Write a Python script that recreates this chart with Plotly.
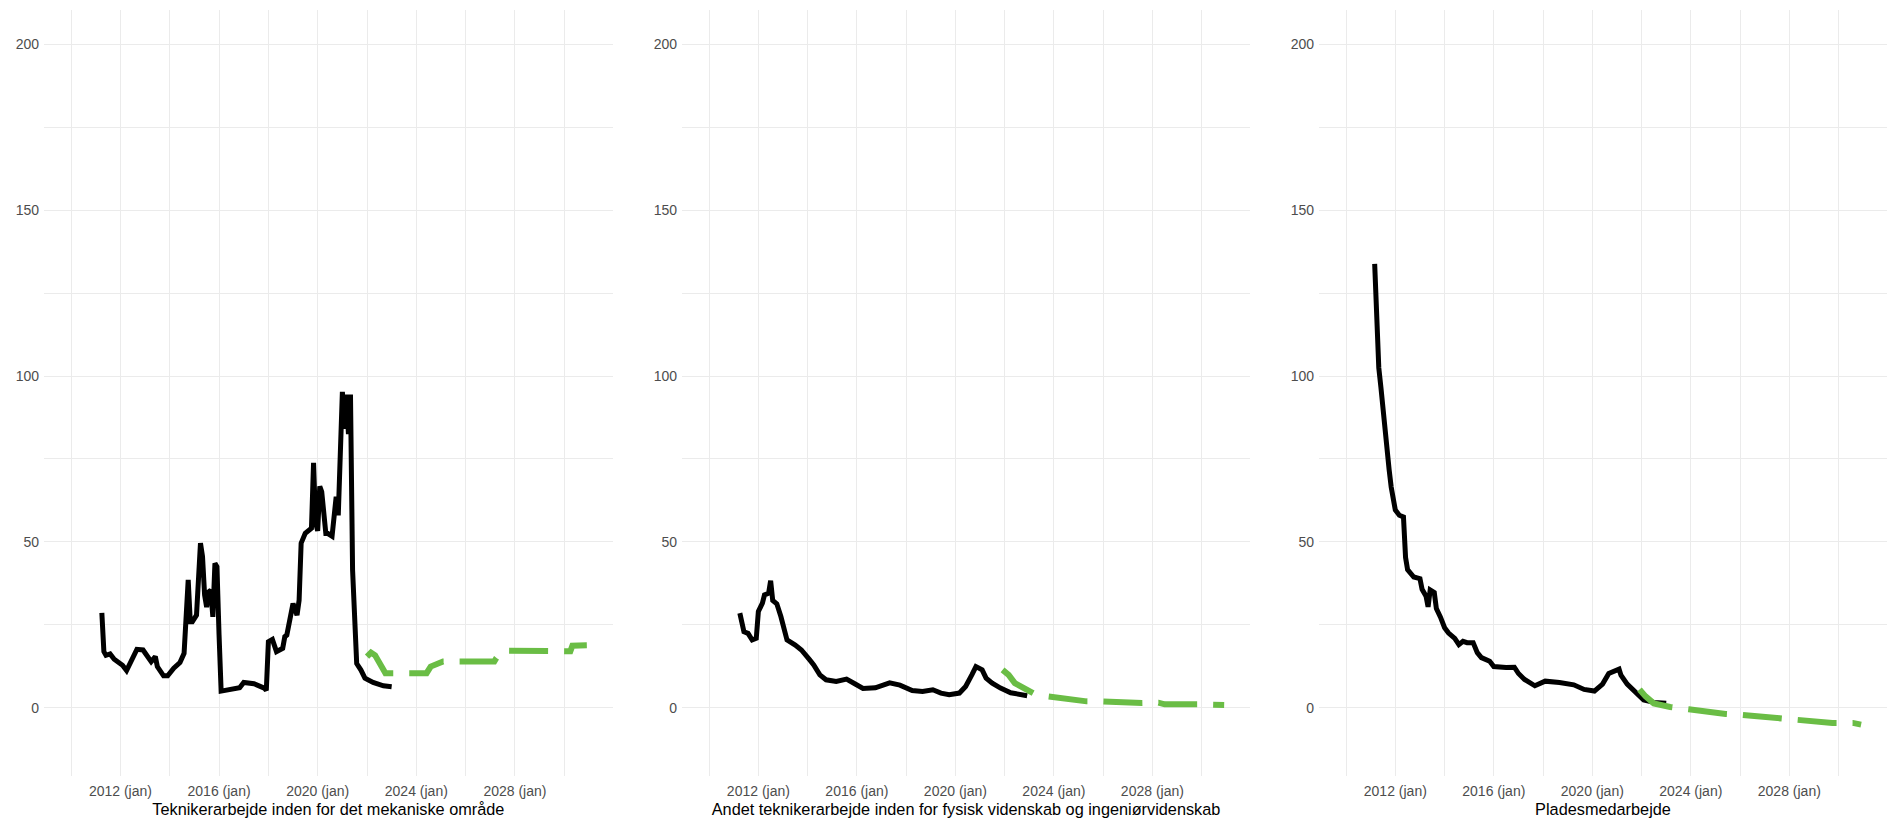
import plotly.graph_objects as go

# ---------------- data ----------------
titles = [
    "Teknikerarbejde inden for det mekaniske område",
    "Andet teknikerarbejde inden for fysisk videnskab og ingeniørvidenskab",
    "Pladesmedarbejde",
]

tick_dates = ["2012-01-01", "2016-01-01", "2020-01-01", "2024-01-01", "2028-01-01"]
tick_labels = ["2012 (jan)", "2016 (jan)", "2020 (jan)", "2024 (jan)", "2028 (jan)"]
minor_dates = ["2010-01-01", "2014-01-01", "2018-01-01", "2022-01-01", "2026-01-01", "2030-01-01"]
y_ticks = [0, 50, 100, 150, 200]
y_minor = [25, 75, 125, 175]

# Panel 1 - historic
p1_hist_x = ["2011-04", "2011-05", "2011-06", "2011-08", "2011-10", "2011-12", "2012-02",
             "2012-04", "2012-06", "2012-09", "2012-12",
             "2013-04", "2013-06", "2013-07", "2013-10", "2013-12", "2014-03", "2014-06",
             "2014-08", "2014-09", "2014-10", "2014-11", "2014-12", "2015-02", "2015-04",
             "2015-05", "2015-06", "2015-07", "2015-08", "2015-09", "2015-10", "2015-11",
             "2015-12", "2016-01", "2016-02", "2016-11", "2017-01", "2017-06", "2017-11",
             "2017-12", "2018-01", "2018-03", "2018-05", "2018-08", "2018-09", "2018-10",
             "2018-12", "2019-01", "2019-03", "2019-04", "2019-05", "2019-07", "2019-10",
             "2019-11", "2019-12", "2020-01", "2020-02", "2020-03", "2020-05", "2020-06",
             "2020-08", "2020-10", "2020-11", "2020-12", "2021-01", "2021-02", "2021-03",
             "2021-04", "2021-05", "2021-06", "2021-07", "2021-08", "2021-10", "2021-12",
             "2022-04", "2022-09", "2023-01"]
p1_hist_y = [28.6, 16.9, 15.8, 16.2, 14.6, 13.9, 12.8,
             11.2, 13.5, 17.6, 17.4,
             13.9, 15.4, 12.4, 9.6, 9.6, 11.9, 13.6,
             16.4, 25.4, 38.5, 25.9, 25.9, 27.9, 49.6,
             45.6, 34.0, 30.3, 34.9, 35.4, 27.4, 43.5,
             42.5, 22.0, 5.0, 6.0, 7.6, 7.2, 5.9,
             5.2, 19.9, 20.6, 16.9, 17.9, 21.4, 21.9,
             27.9, 31.4, 27.9, 32.4, 49.6, 52.6, 54.1,
             73.8, 55.7, 53.3, 66.7, 65.1, 52.5, 52.5,
             51.7, 63.6, 58.0, 76.2, 95.2, 84.1, 94.4,
             82.5, 94.4, 41.5, 27.4, 13.3, 11.4, 8.9,
             7.6, 6.6, 6.3]
# Panel 1 - forecast
p1_fc_x = ["2022-01", "2022-03", "2022-05", "2022-10", "2024-06", "2024-08", "2025-02",
           "2027-03", "2027-04", "2027-07", "2030-04", "2030-05", "2030-12"]
p1_fc_y = [15.4, 16.6, 15.8, 10.4, 10.4, 12.4, 13.9,
           13.9, 15.0, 17.2, 17.0, 18.7, 18.8]

# Panel 2 - historic
p2_hist_x = ["2011-04", "2011-06", "2011-08", "2011-10", "2011-12", "2012-01", "2012-03",
             "2012-04", "2012-06", "2012-07", "2012-08", "2012-10", "2012-12", "2013-03",
             "2013-07", "2013-10", "2014-02", "2014-04", "2014-07", "2014-10", "2015-03",
             "2015-08", "2015-12", "2016-04", "2016-10", "2017-01", "2017-05", "2017-10",
             "2018-04", "2018-09", "2019-02", "2019-06", "2019-10", "2020-03", "2020-06",
             "2020-09", "2020-11", "2021-02", "2021-04", "2021-07", "2021-11", "2022-04",
             "2022-08", "2022-12"]
p2_hist_y = [28.5, 22.9, 22.4, 20.4, 20.9, 29.0, 31.5,
             34.0, 34.5, 38.3, 32.3, 31.3, 27.4, 20.4,
             18.9, 17.4, 14.4, 12.9, 9.9, 8.4, 7.9,
             8.6, 7.2, 5.8, 6.0, 6.5, 7.5, 6.8,
             5.2, 4.9, 5.4, 4.4, 3.9, 4.4, 6.4,
             9.9, 12.4, 11.4, 8.9, 7.4, 5.9, 4.5,
             3.9, 3.6]
# Panel 2 - forecast
p2_fc_x = ["2021-12", "2022-03", "2022-06", "2022-10", "2023-03", "2023-10", "2024-03",
           "2024-10", "2025-05", "2026-01", "2026-10", "2027-08", "2028-04", "2028-07",
           "2029-11", "2030-06", "2030-12"]
p2_fc_y = [11.4, 9.9, 7.4, 5.9, 4.4, 3.4, 2.9,
           2.4, 1.9, 1.9, 1.6, 1.4, 1.5, 1.0,
           1.0, 0.8, 0.8]

# Panel 3 - historic
p3_hist_x = ["2011-03", "2011-04", "2011-05", "2011-06", "2011-07", "2011-08", "2011-09",
             "2011-10", "2011-11", "2011-12", "2012-01", "2012-03", "2012-05", "2012-06",
             "2012-07", "2012-10", "2013-01", "2013-02", "2013-04", "2013-05", "2013-06",
             "2013-08", "2013-09", "2013-11", "2014-01", "2014-03", "2014-06", "2014-08",
             "2014-10", "2014-12", "2015-03", "2015-05", "2015-07", "2015-11", "2016-01",
             "2016-07", "2016-11", "2017-01", "2017-04", "2017-09", "2018-02", "2018-09",
             "2019-04", "2019-09", "2020-02", "2020-06", "2020-09", "2021-02", "2021-03",
             "2021-06", "2021-10", "2022-02", "2022-07", "2023-01"]
p3_hist_y = [133.8, 117.9, 102.5, 96.7, 89.8, 86.6, 78.2,
             71.8, 66.5, 62.2, 59.6, 58.0, 57.5, 45.3,
             41.6, 39.4, 38.9, 35.7, 33.6, 30.4, 35.5,
             34.7, 29.9, 27.3, 24.1, 22.5, 20.9, 19.0,
             20.0, 19.6, 19.6, 16.6, 15.1, 14.0, 12.4,
             12.1, 12.2, 10.3, 8.5, 6.6, 8.0, 7.6,
             6.9, 5.5, 5.0, 7.1, 10.3, 11.6, 9.8,
             7.1, 4.5, 2.3, 1.6, 1.3]
# Panel 3 - forecast
p3_fc_x = ["2021-12", "2022-03", "2022-07", "2023-03", "2023-12", "2024-09", "2025-06",
           "2026-02", "2026-12", "2027-09", "2028-05", "2029-02", "2029-10", "2030-08",
           "2030-12"]
p3_fc_y = [5.5, 3.4, 1.3, 0.2, -0.5, -1.4, -1.9,
           -2.2, -2.7, -3.2, -3.5, -4.0, -4.6, -4.6,
           -5.1]

panels = [
    (p1_hist_x, p1_hist_y, p1_fc_x, p1_fc_y),
    (p2_hist_x, p2_hist_y, p2_fc_x, p2_fc_y),
    (p3_hist_x, p3_hist_y, p3_fc_x, p3_fc_y),
]

# ---------------- styling ----------------
W, H = 1892, 822
ML, MR, MT, MB = 44, 5, 10, 46
domains = [[0.0, 0.3086], [0.3462, 0.6544], [0.6918, 1.0]]
x_range = ["2008-11-25", "2031-12-20"]
y_range = [-20.6, 210.35]
grid_col = "#ebebeb"
tick_font = dict(family="Arial, Liberation Sans, sans-serif", size=14, color="#4d4d4d")
title_font = dict(family="Arial, Liberation Sans, sans-serif", size=16.3, color="#000000")
hist_col = "#000000"
fc_col = "#6abd45"

fig = go.Figure()
for i, (hx, hy, fx, fy) in enumerate(panels):
    n = "" if i == 0 else str(i + 1)
    fig.add_trace(go.Scatter(x=hx, y=hy, mode="lines", xaxis="x" + n, yaxis="y" + n,
                             line=dict(color=hist_col, width=5), showlegend=False))
    fig.add_trace(go.Scatter(x=fx, y=fy, mode="lines", xaxis="x" + n, yaxis="y" + n,
                             line=dict(color=fc_col, width=6, dash="39px,16px"),
                             showlegend=False))
    xa = dict(domain=domains[i], anchor="y" + n, type="date", range=x_range,
              tickmode="array", tickvals=tick_dates, ticktext=tick_labels,
              showgrid=True, gridcolor=grid_col, gridwidth=1, zeroline=False, showline=False,
              ticks="", tickfont=tick_font, ticklabelstandoff=5,
              minor=dict(tickmode="array", tickvals=minor_dates, showgrid=True,
                         gridcolor=grid_col, gridwidth=1, ticks=""),
              title=dict(text=titles[i], font=title_font, standoff=5))
    ya = dict(anchor="x" + n, domain=[0, 1], range=y_range,
              tickmode="array", tickvals=y_ticks,
              showgrid=True, gridcolor=grid_col, gridwidth=1, zeroline=False, showline=False,
              ticks="", tickfont=tick_font, ticklabelstandoff=4,
              minor=dict(tickmode="array", tickvals=y_minor, showgrid=True,
                         gridcolor=grid_col, gridwidth=1, ticks=""))
    fig.update_layout({"xaxis" + n: xa, "yaxis" + n: ya})

fig.update_layout(width=W, height=H, margin=dict(l=ML, r=MR, t=MT, b=MB, autoexpand=False),
                  paper_bgcolor="white", plot_bgcolor="white", showlegend=False)

fig.write_html("out.html", config={"displayModeBar": False},
               post_script="document.body.style.margin='0';document.body.style.overflow='hidden';")
